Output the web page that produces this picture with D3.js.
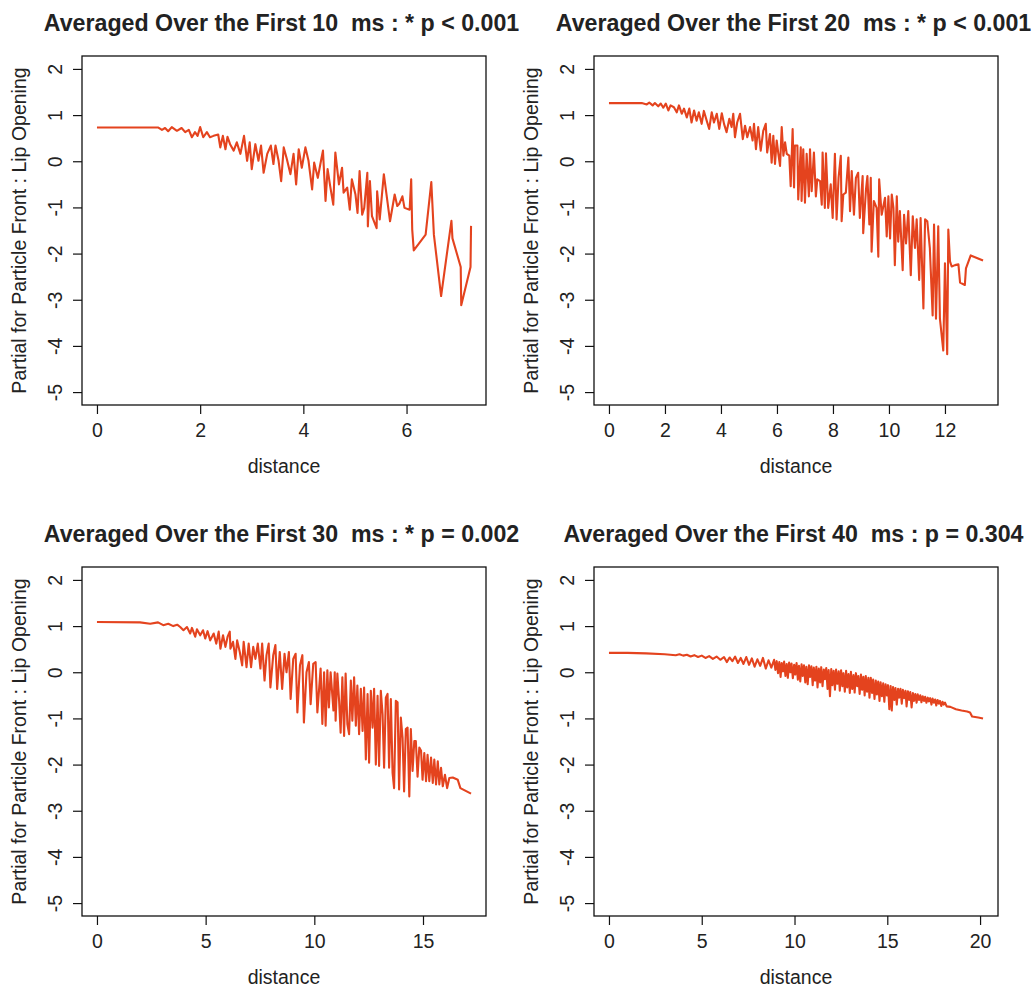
<!DOCTYPE html>
<html>
<head>
<meta charset="utf-8">
<script src="https://cdn.jsdelivr.net/npm/d3@7"></script>
<style>
  body { margin: 0; background: #fff; }
  text { font-family: "Liberation Sans", Arial, Helvetica, sans-serif; fill: #222; }
</style>
</head>
<body>
<svg id="chart" width="1034" height="988"></svg>
<script>
// ---------- data ----------
const titles = [
  "Averaged Over the First 10  ms : * p < 0.001",
  "Averaged Over the First 20  ms : * p < 0.001",
  "Averaged Over the First 30  ms : * p = 0.002",
  "Averaged Over the First 40  ms : p = 0.304"
];
const xLabel = "distance";
const yLabel = "Partial for Particle Front : Lip Opening";
const yTicks = [-5, -4, -3, -2, -1, 0, 1, 2];
const xTicks1 = [0, 2, 4, 6];
const xTicks2 = [0, 2, 4, 6, 8, 10, 12];
const xTicks3 = [0, 5, 10, 15];
const xTicks4 = [0, 5, 10, 15, 20];

const dist1 = [0, 1.19, 1.26, 1.32, 1.38, 1.45, 1.55, 1.64, 1.71, 1.78, 1.84, 1.90, 1.95, 2.00, 2.06, 2.13, 2.19, 2.26, 2.35, 2.39, 2.44, 2.49, 2.53, 2.58, 2.65, 2.71, 2.78, 2.85, 2.91, 2.96, 3.00, 3.07, 3.13, 3.18, 3.23, 3.30, 3.37, 3.42, 3.46, 3.52, 3.57, 3.62, 3.68, 3.75, 3.81, 3.86, 3.91, 3.97, 4.04, 4.10, 4.17, 4.21, 4.28, 4.33, 4.38, 4.43, 4.47, 4.52, 4.58, 4.62, 4.69, 4.75, 4.78, 4.85, 4.90, 4.94, 5.01, 5.05, 5.09, 5.14, 5.18, 5.24, 5.25, 5.29, 5.33, 5.42, 5.43, 5.48, 5.56, 5.68, 5.77, 5.82, 5.86, 5.92, 5.96, 6.06, 6.09, 6.11, 6.14, 6.37, 6.48, 6.53, 6.67, 6.87, 6.89, 7.05, 7.06, 7.24, 7.25];
const partial1 = [0.73, 0.73, 0.68, 0.72, 0.65, 0.74, 0.66, 0.72, 0.63, 0.68, 0.52, 0.63, 0.55, 0.74, 0.52, 0.63, 0.52, 0.55, 0.58, 0.30, 0.55, 0.26, 0.53, 0.37, 0.23, 0.41, 0.16, 0.55, 0.01, 0.41, -0.17, 0.37, 0.01, 0.34, -0.25, 0.16, 0.34, -0.06, 0.34, 0.01, -0.43, 0.30, 0.05, -0.28, 0.16, -0.50, 0.26, -0.14, 0.30, 0.01, -0.61, -0.03, -0.36, -0.06, 0.23, -0.86, -0.17, -0.54, -0.94, 0.19, -0.50, -0.14, -0.68, -0.57, -1.05, -0.39, -0.72, -1.12, -0.21, -1.16, -1.01, -0.25, -1.41, -0.43, -1.19, -1.45, -0.65, -1.26, -0.28, -1.30, -0.72, -0.97, -0.92, -0.76, -1.01, -1.05, -0.39, -1.48, -1.93, -1.59, -0.45, -1.59, -2.92, -1.29, -1.67, -2.29, -3.12, -2.29, -1.40];

const dist2 = [0, 1.17, 1.35, 1.44, 1.56, 1.64, 1.76, 1.85, 1.94, 2.03, 2.12, 2.20, 2.32, 2.42, 2.50, 2.60, 2.68, 2.78, 2.87, 2.95, 3.04, 3.13, 3.21, 3.31, 3.39, 3.49, 3.58, 3.67, 3.75, 3.85, 3.94, 4.03, 4.11, 4.20, 4.30, 4.38, 4.44, 4.50, 4.58, 4.68, 4.78, 4.86, 4.94, 5.04, 5.13, 5.18, 5.25, 5.33, 5.42, 5.51, 5.60, 5.65, 5.75, 5.81, 5.87, 5.93, 5.99, 6.05, 6.11, 6.17, 6.23, 6.29, 6.35, 6.44, 6.49, 6.56, 6.61, 6.64, 6.73, 6.76, 6.85, 6.88, 6.94, 7.00, 7.06, 7.14, 7.18, 7.24, 7.32, 7.39, 7.44, 7.54, 7.60, 7.63, 7.71, 7.75, 7.83, 7.92, 7.99, 8.07, 8.13, 8.20, 8.28, 8.31, 8.37, 8.46, 8.55, 8.61, 8.67, 8.75, 8.82, 8.90, 8.96, 9.06, 9.08, 9.18, 9.23, 9.30, 9.35, 9.38, 9.46, 9.56, 9.62, 9.65, 9.74, 9.86, 9.92, 9.98, 10.04, 10.10, 10.16, 10.21, 10.28, 10.33, 10.39, 10.49, 10.54, 10.61, 10.69, 10.78, 10.85, 10.93, 10.99, 11.08, 11.13, 11.23, 11.29, 11.37, 11.46, 11.56, 11.61, 11.68, 11.76, 11.82, 11.94, 12.00, 12.08, 12.12, 12.18, 12.24, 12.36, 12.48, 12.54, 12.71, 12.75, 12.92, 13.36];
const partial2 = [1.26, 1.26, 1.23, 1.27, 1.21, 1.26, 1.19, 1.25, 1.16, 1.25, 1.10, 1.21, 1.17, 1.06, 1.21, 1.03, 1.14, 0.95, 1.14, 0.84, 1.10, 0.88, 1.06, 0.81, 1.09, 0.88, 0.70, 1.06, 0.84, 1.03, 0.70, 1.04, 0.81, 0.63, 0.92, 0.74, 1.03, 0.52, 0.84, 1.03, 0.48, 0.77, 0.52, 0.74, 0.45, 0.81, 0.26, 0.74, 0.23, 0.66, 0.81, 0.19, 0.59, -0.03, 0.55, -0.06, 0.45, 0.16, -0.10, 0.74, 0.12, 0.41, 0.16, 0.12, -0.54, 0.70, -0.57, 0.34, 0.34, -0.83, 0.30, -0.86, 0.26, -0.90, 0.16, -0.76, 0.26, -0.65, 0.19, -0.76, -0.39, -0.43, -0.94, 0.19, -1.01, 0.17, -1.01, -0.50, -1.23, 0.16, -1.26, -0.36, 0.12, -1.30, -0.72, -0.68, 0.08, -1.08, -0.21, -1.16, -0.36, -0.25, -1.23, -0.32, -1.56, -0.61, -0.32, -1.37, -0.36, -1.96, -0.86, -1.01, -2.07, -0.39, -1.16, -0.79, -1.63, -0.76, -1.67, -0.72, -1.01, -2.25, -0.76, -1.74, -1.08, -2.36, -1.16, -1.78, -1.08, -2.47, -1.19, -1.88, -1.26, -2.57, -1.23, -3.19, -1.26, -1.30, -1.88, -3.34, -1.37, -3.41, -1.41, -3.41, -4.10, -2.21, -4.18, -1.48, -2.17, -2.28, -2.25, -2.23, -2.63, -2.68, -2.32, -2.04, -2.15];

const dist3 = [0, 1.98, 2.45, 2.81, 3.05, 3.28, 3.51, 3.69, 3.83, 3.98, 4.14, 4.29, 4.37, 4.52, 4.60, 4.75, 4.88, 4.98, 5.09, 5.21, 5.37, 5.49, 5.60, 5.68, 5.80, 5.91, 6.01, 6.11, 6.14, 6.26, 6.37, 6.45, 6.57, 6.68, 6.75, 6.88, 6.98, 7.09, 7.19, 7.29, 7.40, 7.52, 7.60, 7.71, 7.80, 7.90, 7.98, 8.11, 8.21, 8.29, 8.41, 8.52, 8.63, 8.72, 8.83, 8.91, 9.03, 9.14, 9.22, 9.34, 9.45, 9.52, 9.64, 9.75, 9.83, 9.95, 10.06, 10.14, 10.29, 10.37, 10.45, 10.52, 10.60, 10.67, 10.75, 10.88, 10.94, 10.98, 11.06, 11.14, 11.21, 11.29, 11.37, 11.44, 11.52, 11.60, 11.68, 11.75, 11.83, 11.91, 11.98, 12.06, 12.14, 12.22, 12.29, 12.37, 12.45, 12.52, 12.60, 12.68, 12.75, 12.83, 12.91, 12.98, 13.06, 13.14, 13.21, 13.29, 13.37, 13.44, 13.52, 13.60, 13.67, 13.75, 13.83, 13.90, 13.98, 14.06, 14.13, 14.21, 14.29, 14.37, 14.44, 14.52, 14.60, 14.67, 14.75, 14.83, 14.91, 14.98, 15.06, 15.14, 15.21, 15.29, 15.37, 15.45, 15.52, 15.60, 15.68, 15.75, 15.83, 15.91, 16.01, 16.11, 16.21, 16.37, 16.60, 16.72, 17.21];
const partial3 = [1.09, 1.08, 1.05, 1.08, 1.02, 1.05, 1.00, 1.03, 0.98, 0.91, 0.98, 0.84, 0.96, 0.77, 0.93, 0.80, 0.91, 0.73, 0.89, 0.69, 0.84, 0.62, 0.88, 0.51, 0.80, 0.55, 0.77, 0.88, 0.51, 0.66, 0.29, 0.69, 0.44, 0.15, 0.66, 0.11, 0.62, 0.11, 0.55, 0.29, 0.62, 0.08, 0.62, -0.18, 0.37, 0.62, -0.33, 0.37, 0.59, -0.36, 0.44, -0.36, 0.40, 0.00, 0.44, -0.58, 0.29, 0.40, -0.87, 0.15, 0.37, -1.09, 0.00, 0.22, -0.69, 0.18, 0.22, -0.87, 0.08, -1.12, 0.00, -1.16, 0.04, -0.76, 0.00, -0.83, 0.00, -1.05, -0.03, -0.62, -1.31, -0.11, -1.38, -0.03, -1.12, -1.34, -0.18, -1.05, -0.11, -1.16, -0.29, -1.34, -0.36, -1.27, -0.33, -1.89, -0.47, -1.96, -0.40, -1.20, -0.36, -2.00, -0.51, -2.03, -0.40, -0.91, -2.07, -0.55, -0.47, -2.07, -0.58, -2.18, -2.51, -0.62, -0.65, -2.54, -0.98, -1.42, -2.58, -1.23, -1.20, -2.69, -1.23, -2.14, -1.49, -1.49, -2.26, -1.63, -1.70, -2.33, -1.75, -2.36, -1.79, -2.36, -1.85, -2.40, -1.89, -2.43, -1.93, -2.43, -2.07, -2.47, -2.22, -2.51, -2.29, -2.28, -2.33, -2.51, -2.63];

const dist4 = [
  0, 1.0, 2.0, 3.0, 3.6, 3.8, 4.0, 4.2, 4.4, 4.6,
  4.8, 5.0, 5.2, 5.4, 5.6, 5.8, 6.0, 6.2, 6.35, 6.5,
  6.65, 6.8, 6.95, 7.1, 7.25, 7.4, 7.55, 7.7, 7.85, 8.0,
  8.15, 8.3, 8.45, 8.6, 8.75,
  8.90, 8.97, 9.04, 9.11, 9.18, 9.25, 9.31, 9.38, 9.44, 9.51,
  9.58, 9.64, 9.71, 9.78, 9.84, 9.91, 9.98, 10.04, 10.11, 10.18,
  10.24, 10.31, 10.38, 10.44, 10.51, 10.58, 10.64, 10.71, 10.78, 10.84,
  10.91, 10.98, 11.04, 11.11, 11.18, 11.24, 11.31, 11.38, 11.44, 11.51,
  11.58, 11.64, 11.71, 11.78, 11.84, 11.91, 11.98, 12.04, 12.11, 12.18,
  12.24, 12.31, 12.38, 12.44, 12.51, 12.58, 12.64, 12.71, 12.78, 12.84,
  12.91, 12.98, 13.04, 13.11, 13.18, 13.24, 13.31, 13.38, 13.44, 13.51,
  13.58, 13.64, 13.71, 13.78, 13.84, 13.91, 13.98, 14.04, 14.11, 14.18,
  14.24, 14.31, 14.38, 14.44, 14.51, 14.58, 14.64, 14.71, 14.78, 14.84,
  14.91, 14.98, 15.04, 15.11, 15.18, 15.24, 15.31, 15.38, 15.44, 15.51,
  15.58, 15.64, 15.71, 15.78, 15.84, 15.91, 15.98, 16.04, 16.11, 16.18,
  16.24, 16.31, 16.38, 16.44, 16.51, 16.58, 16.64, 16.71, 16.78, 16.84,
  16.91, 16.98, 17.04, 17.11, 17.18, 17.24, 17.31, 17.38, 17.44, 17.51,
  17.58, 17.64, 17.71, 17.78, 17.84, 17.91, 17.98, 18.04, 18.11, 18.2,
  18.4, 18.7, 19.0, 19.3, 19.46, 19.57, 19.9, 20.16
];
const partial4 = [
  0.42, 0.42, 0.41, 0.39, 0.37, 0.39, 0.36, 0.38, 0.34, 0.37,
  0.33, 0.36, 0.31, 0.35, 0.29, 0.34, 0.27, 0.33, 0.22, 0.32,
  0.24, 0.34, 0.20, 0.31, 0.18, 0.33, 0.16, 0.30, 0.12, 0.28,
  0.14, 0.31, 0.08, 0.26, 0.10,
  0.27, 0.05, 0.24, -0.02, 0.22, -0.10, 0.20, 0.02, 0.23, -0.08,
  0.18, -0.12, 0.21, 0.00, 0.19, -0.13, 0.16, -0.05, 0.20, -0.16,
  0.14, -0.20, 0.17, -0.08, 0.15, -0.22, 0.12, -0.26, 0.15, -0.10,
  0.13, -0.28, 0.10, -0.18, 0.12, -0.33, 0.08, -0.22, 0.11, -0.30,
  0.06, -0.15, 0.09, -0.36, 0.05, -0.52, 0.07, -0.28, 0.03, -0.38,
  0.06, -0.25, 0.02, -0.40, 0.04, -0.30, -0.02, -0.42, 0.03, -0.33,
  -0.04, -0.45, 0.01, -0.36, -0.06, -0.44, -0.02, -0.30, -0.08, -0.47,
  -0.05, -0.38, -0.10, -0.50, -0.08, -0.42, -0.12, -0.55, -0.12, -0.45,
  -0.16, -0.58, -0.18, -0.48, -0.20, -0.62, -0.22, -0.52, -0.24, -0.64,
  -0.26, -0.50, -0.28, -0.80, -0.30, -0.83, -0.32, -0.60, -0.34, -0.70,
  -0.36, -0.55, -0.36, -0.68, -0.38, -0.56, -0.40, -0.74, -0.41, -0.60,
  -0.43, -0.76, -0.45, -0.62, -0.47, -0.66, -0.48, -0.60, -0.50, -0.65,
  -0.52, -0.62, -0.53, -0.66, -0.55, -0.63, -0.56, -0.70, -0.57, -0.66,
  -0.59, -0.72, -0.60, -0.68, -0.62, -0.73, -0.64, -0.70, -0.66, -0.74,
  -0.75, -0.80, -0.83, -0.85, -0.87, -0.96, -0.98, -1.00
];

// ---------- layout ----------
const W = 404, H = 349;
const panels = [
  { x: 82,  y: 56,  dist: dist1, partial: partial1, title: titles[0], xTicks: xTicks1 },
  { x: 594, y: 56,  dist: dist2, partial: partial2, title: titles[1], xTicks: xTicks2 },
  { x: 82,  y: 567, dist: dist3, partial: partial3, title: titles[2], xTicks: xTicks3 },
  { x: 594, y: 567, dist: dist4, partial: partial4, title: titles[3], xTicks: xTicks4 }
];
const lineColor = "#E4431E";
const svg = d3.select("#chart");
const fmt = d => String(d);

panels.forEach(p => {
  const maxD = d3.max(p.dist);
  const xs = d3.scaleLinear().domain([-0.04 * maxD, 1.04 * maxD]).range([0, W]);
  const ys = d3.scaleLinear().domain([-5.28, 2.28]).range([H, 0]);
  const g = svg.append("g").attr("transform", `translate(${p.x},${p.y})`);

  const pts = p.dist.map((d, i) => [d, p.partial[i]]);
  g.append("path")
    .datum(pts)
    .attr("fill", "none")
    .attr("stroke", lineColor)
    .attr("stroke-width", 2.1)
    .attr("stroke-linejoin", "round")
    .attr("d", d3.line().x(d => xs(d[0])).y(d => ys(d[1])));

  g.append("rect")
    .attr("x", 0).attr("y", 0).attr("width", W).attr("height", H)
    .attr("fill", "none").attr("stroke", "#111").attr("stroke-width", 1.3);

  const xa = g.append("g").attr("transform", `translate(0,${H})`)
    .call(d3.axisBottom(xs).tickValues(p.xTicks).tickSize(9).tickFormat(fmt));
  xa.select(".domain").remove();
  xa.selectAll(".tick line").attr("stroke", "#111").attr("stroke-width", 1.2);
  xa.selectAll(".tick text").attr("y", 32).attr("dy", 0)
    .style("font-size", "19.5px").style("font-family", "Liberation Sans, Arial, sans-serif").attr("fill", "#222");

  const ya = g.append("g")
    .call(d3.axisLeft(ys).tickValues(yTicks).tickSize(9).tickFormat(fmt));
  ya.select(".domain").remove();
  ya.selectAll(".tick line").attr("stroke", "#111").attr("stroke-width", 1.2);
  ya.selectAll(".tick text")
    .attr("transform", "rotate(-90)")
    .attr("x", 0).attr("y", -20).attr("dy", 0)
    .attr("text-anchor", "middle")
    .style("font-size", "19.5px").style("font-family", "Liberation Sans, Arial, sans-serif").attr("fill", "#222");

  svg.append("text")
    .attr("x", p.x + W / 2 - 2.5).attr("y", p.y - 25)
    .attr("text-anchor", "middle")
    .style("white-space", "pre")
    .style("font-weight", "bold")
    .style("font-size", "23.2px")
    .text(p.title);

  svg.append("text")
    .attr("x", p.x + W / 2).attr("y", p.y + H + 67.5)
    .attr("text-anchor", "middle")
    .style("font-size", "19.5px")
    .text(xLabel);

  svg.append("text")
    .attr("transform", `translate(${p.x - 56.5},${p.y + H / 2}) rotate(-90)`)
    .attr("text-anchor", "middle")
    .style("font-size", "19.5px")
    .text(yLabel);
});
</script>
</body>
</html>
